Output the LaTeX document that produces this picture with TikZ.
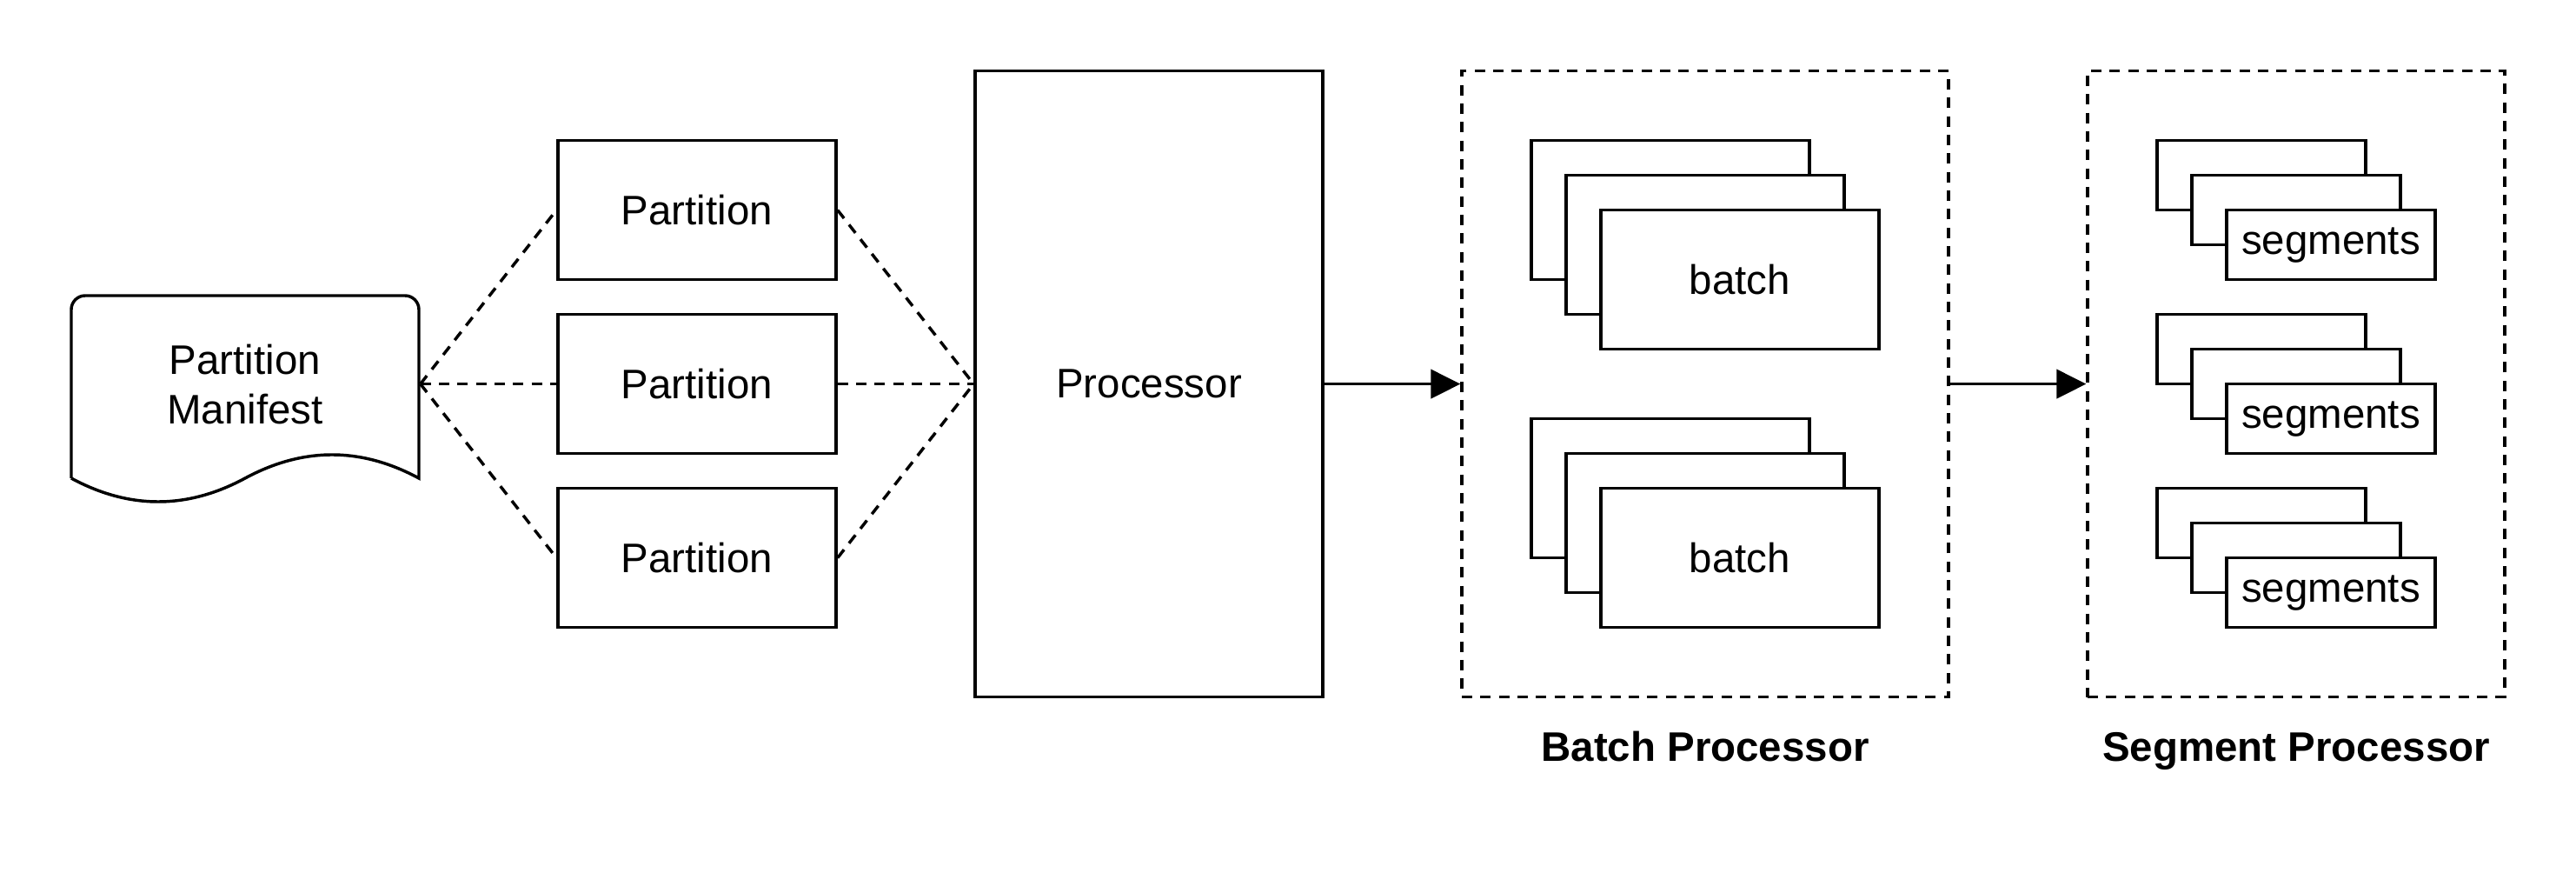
\documentclass[tikz,border=0pt]{standalone}
\usepackage{fontspec}
\setmainfont{Liberation Sans}
\usepackage{tikz}
\usetikzlibrary{positioning, arrows.meta}

\begin{document}
\begin{tikzpicture}[
                    x=1pt, y=-1pt,
                    line width=1.3pt,
                    every node/.style={font=\fontsize{17.8pt}{21.4pt}\selectfont},
                    box/.style={draw, fill=white, minimum width=120pt, minimum height=60pt, inner sep=0pt},
                    card/.style={box},
                    segcard/.style={box, minimum width=90pt, minimum height=30pt},
                    group/.style={draw, dash pattern=on 4.5pt off 3.5pt, minimum width=#1, minimum height=270pt, inner sep=0pt},
                    link/.style={dash pattern=on 4.5pt off 3.5pt},
                    flow/.style={-{Triangle[length=12.75pt,width=12.5pt]}},
                    title/.style={font=\fontsize{17.8pt}{21.4pt}\selectfont\bfseries, anchor=base}
                ]
                  \useasboundingbox (0,0) rectangle (1111.5,376.5);

                  \draw[rounded corners=6pt] (30.75,206.25) -- (30.75,127.5) -- (180.75,127.5) [sharp corners] -- (180.75,206.25)
                    .. controls (155.75,192.75) and (130.75,192.75) .. (105.75,206.25)
                    .. controls (80.75,219.75) and (55.75,219.75) .. (30.75,206.25);
                  \node[minimum width=150pt, minimum height=76.2pt, inner sep=0pt, align=center] (manifest) at (105.75,165.6) {Partition\\Manifest};

                  \node[box] (part1) at (300.75,90.6) {Partition};
                  \node[box] (part2) at (300.75,165.6) {Partition};
                  \node[box] (part3) at (300.75,240.6) {Partition};

                  \node[box, minimum width=150pt, minimum height=270pt] (processor) at (495.75,165.6) {Processor};

                  \node[group=210pt] (batchbox) at (735.75,165.6) {};
                  \node[group=180pt] (segbox) at (990.75,165.6) {};

                  \foreach \y [count=\i] in {120.6,240.6} {
                    \node[card] (batchback\i) at (720.75,\y-30) {};
                    \node[card] (batchmid\i) at (735.75,\y-15) {};
                    \node[card] (batch\i) at (750.75,\y) {batch};
                  }

                  \foreach \y [count=\i] in {105.6,180.6,255.6} {
                    \node[segcard] (segback\i) at (975.75,\y-30) {};
                    \node[segcard] (segmid\i) at (990.75,\y-15) {};
                    \node[segcard] (seg\i) at (1005.75,\y) {segments};
                  }

                  \node[title] (batchlabel) at (735.75,328.4) {Batch Processor};
                  \node[title] (seglabel) at (990.75,328.4) {Segment Processor};

                  \foreach \p in {part1,part2,part3} {
                    \draw[link] (manifest.east) -- (\p.west);
                    \draw[link] (\p.east) -- (processor.west);
                  }

                  \draw[flow] (processor.east) -- (batchbox.west);
                  \draw[flow] (batchbox.east) -- (segbox.west);
                \end{tikzpicture}
\end{document}
